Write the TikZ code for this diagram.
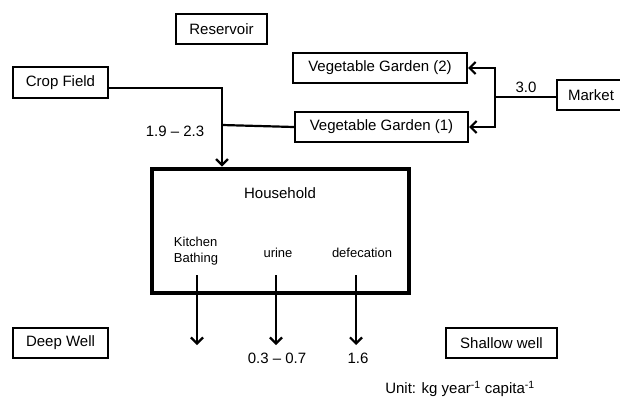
\documentclass[tikz,border=0pt]{standalone}
\usepackage{fontspec}
\setmainfont{Liberation Sans}
\usetikzlibrary{arrows.meta}
\begin{document}
\begin{tikzpicture}[x=1pt,y=-1pt,
  box/.style={draw,line width=2.2pt,minimum height=30pt,inner sep=0pt,font=\fontsize{15}{18}\selectfont},
  lbl/.style={inner sep=0pt,font=\fontsize{15}{18}\selectfont},
  small/.style={inner sep=0pt,font=\fontsize{13}{16}\selectfont},
  flow/.style={line width=2.2pt},
  arr/.style={line width=2.2pt,-{Straight Barb[length=6pt,width=12pt,line width=2.2pt]}}]
\useasboundingbox (0,0) rectangle (620,396);
\clip (0,0) rectangle (620,396);
\node[box,minimum width=91pt] (res) at (221.5,29) {Reservoir};
\node[box,minimum width=95pt,minimum height=31pt] (cf) at (60.5,82.5) {Crop Field};
\node[box,minimum width=174pt] (vg2) at (380,68) {Vegetable Garden (2)};
\node[box,minimum width=173pt] (vg1) at (381.5,127) {Vegetable Garden (1)};
\node[box,minimum width=68pt] (mk) at (591,95) {Market};
\node[box,minimum width=95pt] (dw) at (60.5,343) {Deep Well};
\node[box,minimum width=111pt] (sw) at (501.5,343) {Shallow well};
\node[draw,line width=4.8pt,minimum width=257pt,minimum height=124pt,inner sep=0pt] (hh) at (280.5,231) {};
\node[lbl] (hhl) at (280,193) {Household};
\node[small,align=left] (kb) at (196,251) {Kitchen\\Bathing};
\node[small] (ur) at (278,253) {urine};
\node[small] (df) at (362,253) {defecation};
\node[lbl] (l19) at (175,131) {1.9 -- 2.3};
\node[lbl] (l30) at (526,87) {3.0};
\node[lbl] (l03) at (277,358) {0.3 -- 0.7};
\node[lbl] (l16) at (358,358) {1.6};
\node[lbl] (unit) at (460,389) {Unit: kg year\textsuperscript{-1} capita\textsuperscript{-1}};
% crop field / garden to household
\coordinate (j1) at (222,88);
\coordinate (j2) at (222,125);
\draw[arr] (j1 -| cf.east) -- (j1) -- (j1 |- hh.north);
\draw[flow] (vg1.west) -- (j2);
% market to gardens
\coordinate (m) at (495,97);
\draw[flow] (m -| mk.west) -- (m);
\draw[arr] (m) |- (vg2.east);
\draw[arr] (m) |- (vg1.east);
% household outflows
\coordinate (k1) at (197,275); \coordinate (k2) at (197,345);
\coordinate (u1) at (276,275); \coordinate (u2) at (276,345);
\coordinate (d1) at (356,275); \coordinate (d2) at (356,345);
\draw[arr] (k1) -- (k2);
\draw[arr] (u1) -- (u2);
\draw[arr] (d1) -- (d2);
\end{tikzpicture}
\end{document}
